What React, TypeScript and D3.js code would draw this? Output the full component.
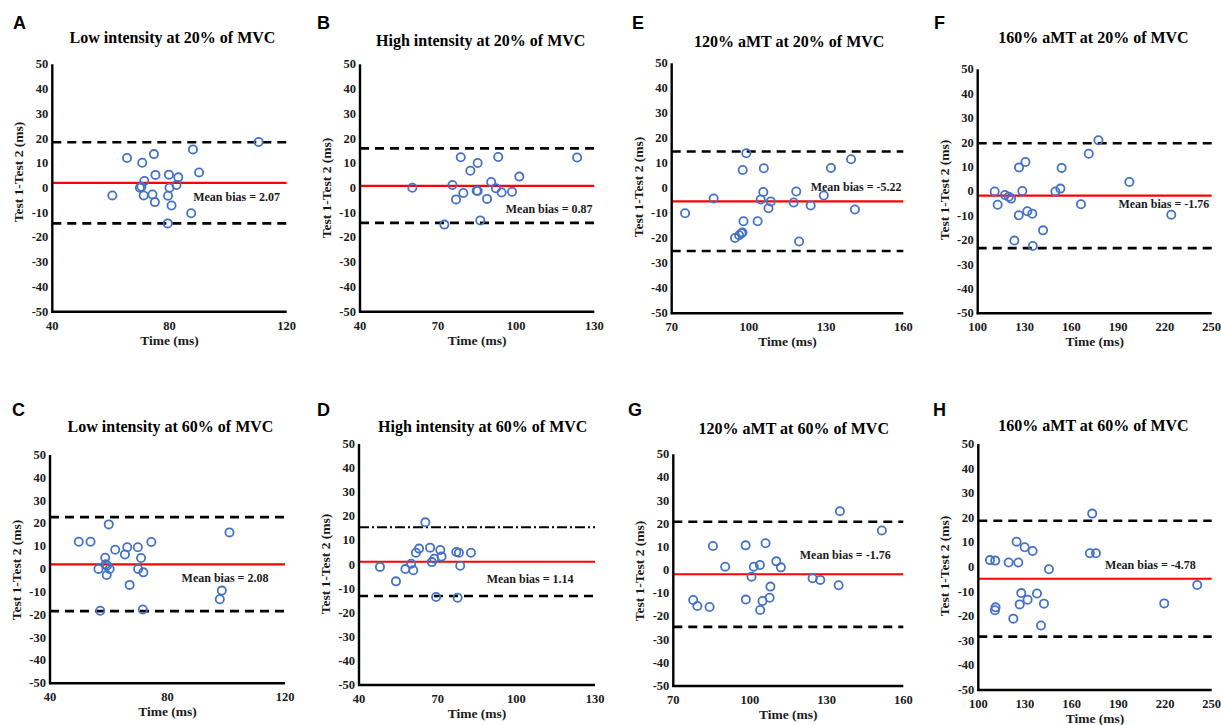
import React from 'react';
import * as d3 from 'd3';

// ---------- DATA ----------
const titles = [
  'Low intensity at 20% of MVC',
  'High intensity at 20% of MVC',
  '120% aMT at 20% of MVC',
  '160% aMT at 20% of MVC',
  'Low intensity at 60% of MVC',
  'High intensity at 60% of MVC',
  '120% aMT at 60% of MVC',
  '160% aMT at 60% of MVC',
];
const letters = ['A', 'B', 'E', 'F', 'C', 'D', 'G', 'H'];
const meanBias = [2.07, 0.87, -5.22, -1.76, 2.08, 1.14, -1.76, -4.78];
const upperLoA = [18.5, 16.0, 14.7, 19.7, 22.8, 15.5, 20.9, 18.8];
const lowerLoA = [-14.3, -14.1, -25.1, -23.3, -18.4, -13.1, -24.5, -28.3];
const xDomains: [number, number][] = [
  [40, 120], [40, 130], [70, 160], [100, 250],
  [40, 120], [40, 130], [70, 160], [100, 250],
];
const xTickSteps = [40, 30, 30, 30, 40, 30, 30, 30];
const yTicks = [-50, -40, -30, -20, -10, 0, 10, 20, 30, 40, 50];

// Panel A
const aTime = [60.5, 65.5, 70.7, 74.7, 69.9, 70.4, 71.4, 71.2, 74.2, 75.2, 75.0, 79.8, 80.0, 79.5, 80.7, 82.4, 83.0, 79.4, 87.4, 88.0, 90.1, 110.4];
const aDiff = [-3.0, 12.1, 10.2, 13.7, 0.1, 0.5, 2.8, -3.0, -2.6, 5.3, -5.7, 5.4, 0.1, -3.1, -7.1, 1.2, 4.3, -14.3, -10.2, 15.6, 6.3, 18.6];
// Panel B
const bTime = [60.1, 75.5, 76.9, 78.7, 79.7, 82.4, 85.2, 84.8, 85.2, 86.2, 72.4, 88.8, 90.4, 92.2, 93.1, 94.4, 98.4, 101.2, 123.4];
const bDiff = [0.1, 1.2, -4.6, 12.4, -2.0, 7.0, 10.1, -1.1, -1.2, -13.1, -14.8, -4.4, 2.4, -0.1, 12.5, -1.8, -1.5, 4.6, 12.3];
// Panel E
const eTime = [75.2, 86.3, 94.6, 96.2, 97.1, 97.5, 97.9, 97.6, 99.0, 103.4, 104.6, 105.6, 105.8, 108.5, 107.6, 117.4, 118.4, 119.5, 124.0, 129.1, 131.9, 139.7, 141.2];
const eDiff = [-10.0, -4.1, -19.9, -18.8, -18.0, -17.7, -13.2, 7.3, 14.0, -13.2, -4.5, -1.5, 8.0, -5.3, -8.0, -5.7, -1.3, -21.3, -6.9, -2.9, 8.1, 11.6, -8.5];
// Panel F
const fTime = [110.9, 112.8, 117.5, 119.9, 121.4, 123.5, 126.5, 126.3, 128.6, 130.6, 131.8, 135.0, 135.3, 141.9, 149.8, 153.0, 153.8, 166.2, 171.2, 177.4, 197.2, 224.1];
const fDiff = [-0.1, -5.5, -1.5, -2.2, -3.0, -20.2, 9.8, -9.8, 0.1, 12.0, -8.2, -9.2, -22.4, -16.0, -0.1, 1.1, 9.6, -5.3, 15.4, 20.9, 3.8, -9.6];
// Panel C
const cTime = [49.8, 53.8, 56.5, 57.1, 58.8, 59.0, 59.4, 59.3, 60.3, 60.0, 62.2, 65.5, 66.3, 67.1, 69.9, 70.0, 71.0, 71.8, 71.6, 74.5, 98.5, 97.8, 101.1];
const cDiff = [12.0, 12.0, 0.1, -18.2, 5.0, 2.1, 1.5, -2.6, 0.1, 19.6, 8.5, 6.4, 9.6, -6.9, 9.6, 0.1, 4.9, -1.4, -17.7, 11.9, -9.4, -13.2, 16.1];
// Panel D
const dTime = [48.0, 54.1, 57.7, 59.9, 60.7, 61.7, 62.9, 65.3, 67.1, 67.8, 68.7, 69.4, 71.0, 71.5, 77.1, 78.1, 77.6, 78.6, 82.7];
const dDiff = [-1.0, -7.0, -1.9, 0.3, -2.4, 4.9, 6.6, 17.5, 7.0, 1.0, 2.4, -13.5, 6.0, 3.3, 5.2, 4.9, -13.8, -0.5, 4.9];
// Panel G
const gTime = [77.8, 79.4, 84.2, 85.5, 90.3, 98.3, 98.4, 100.6, 101.5, 103.9, 104.0, 104.9, 106.1, 107.7, 108.0, 110.3, 112.1, 124.5, 127.5, 134.7, 135.2, 151.6];
const gDiff = [-12.9, -15.5, -15.9, 10.4, 1.5, 10.7, -12.7, -2.8, 1.5, 2.2, -17.2, -13.3, 11.6, -11.9, -7.1, 3.8, 1.2, -3.5, -4.2, -6.5, 25.4, 17.1];
// Panel H
const hTime = [107.5, 110.9, 111.1, 110.7, 119.5, 122.5, 124.6, 125.7, 126.6, 127.6, 129.8, 131.7, 134.9, 137.7, 140.3, 142.2, 145.4, 171.7, 175.6, 173.2, 219.5, 240.7];
const hDiff = [2.8, 2.6, -16.4, -17.6, 1.8, -21.0, 10.3, 1.8, -15.2, -10.6, 8.0, -13.3, 6.5, -10.8, -23.8, -14.9, -0.9, 5.6, 5.6, 21.7, -14.8, -7.3];

const times = [aTime, bTime, eTime, fTime, cTime, dTime, gTime, hTime];
const diffs = [aDiff, bDiff, eDiff, fDiff, cDiff, dDiff, gDiff, hDiff];

// ---------- LAYOUT ----------
type Layout = {
  left: number; right: number; top: number; bottom: number;
  titleX: number; titleY: number; letterX: number; letterY: number;
  yLabelY: number; biasX: number; biasY: number; upperDashDot?: boolean;
};
const layouts: Layout[] = [
  { left: 52.3, right: 286.7, top: 64.3, bottom: 311.7, titleX: 172.5, titleY: 43, letterX: 13, letterY: 29, yLabelY: 172, biasX: 88.1, biasY: -5.1 },
  { left: 360, right: 594.3, top: 64.3, bottom: 311.7, titleX: 480.7, titleY: 46, letterX: 317, letterY: 29, yLabelY: 188, biasX: 96.0, biasY: -10.0 },
  { left: 671.7, right: 903.3, top: 63.3, bottom: 313.3, titleX: 789.2, titleY: 47, letterX: 632, letterY: 29, yLabelY: 187, biasX: 124.0, biasY: -0.9 },
  { left: 977.7, right: 1211.7, top: 69.3, bottom: 313.3, titleX: 1093.5, titleY: 43, letterX: 934, letterY: 29, yLabelY: 190, biasX: 190.2, biasY: -7.0 },
  { left: 50, right: 285, top: 455, bottom: 683.3, titleX: 170.5, titleY: 432, letterX: 12, letterY: 416, yLabelY: 570, biasX: 84.8, biasY: -5.5 },
  { left: 359, right: 595, top: 444, bottom: 685, titleX: 482.7, titleY: 432, letterX: 317, letterY: 416, yLabelY: 564, biasX: 88.7, biasY: -7.5, upperDashDot: true },
  { left: 673.3, right: 903.3, top: 454.3, bottom: 686, titleX: 793.8, titleY: 434, letterX: 628, letterY: 416, yLabelY: 571, biasX: 119.5, biasY: 4.7 },
  { left: 978.3, right: 1211.7, top: 444, bottom: 690, titleX: 1093.5, titleY: 431, letterX: 933, letterY: 416, yLabelY: 566, biasX: 181.4, biasY: -0.8 },
];

const SERIF = '"Liberation Serif","Times New Roman",Times,serif';
const SANS = '"Liberation Sans",Arial,Helvetica,sans-serif';
const BLUE = '#4472C4';
const INK = '#1a1a1a';

function Panel({ i }: { i: number }) {
  const L = layouts[i];
  const dom = xDomains[i];
  const x = d3.scaleLinear().domain(dom).range([L.left, L.right]);
  const y = d3.scaleLinear().domain([-50, 50]).range([L.bottom, L.top]);
  const xt = d3.range(dom[0], dom[1] + 0.001, xTickSteps[i]);
  const pts = times[i].map((t, k) => ({ t, d: diffs[i][k] }));
  return (
    <g>
      <text x={L.letterX} y={L.letterY} fontFamily={SANS} fontWeight="bold" fontSize={18} fill="#000">{letters[i]}</text>
      <text x={L.titleX} y={L.titleY} textAnchor="middle" fontFamily={SERIF} fontWeight="bold" fontSize={16} fill="#000">{titles[i]}</text>
      {/* limits of agreement */}
      <line x1={x(dom[0])} x2={x(dom[1])} y1={y(upperLoA[i])} y2={y(upperLoA[i])} stroke="#000"
        strokeWidth={L.upperDashDot ? 2 : 2.6} strokeDasharray={L.upperDashDot ? '10,3,2,3' : '9,6'} />
      <line x1={x(dom[0])} x2={x(dom[1])} y1={y(lowerLoA[i])} y2={y(lowerLoA[i])} stroke="#000" strokeWidth={2.6} strokeDasharray="9,6" />
      {/* mean bias */}
      <line x1={x(dom[0])} x2={x(dom[1])} y1={y(meanBias[i])} y2={y(meanBias[i])} stroke="#FF0000" strokeWidth={2.2} />
      {pts.map((p, k) => (
        <circle key={k} cx={x(p.t)} cy={y(p.d)} r={4.1} fill="none" stroke={BLUE} strokeWidth={1.8} />
      ))}
      <text x={x(L.biasX)} y={y(L.biasY)} fontFamily={SERIF} fontWeight="bold" fontSize={12} fill={INK}>
        {`Mean bias = ${meanBias[i].toFixed(2)}`}
      </text>
      {/* axes */}
      <line x1={L.left} x2={L.left} y1={L.top} y2={L.bottom + 1} stroke="#000" strokeWidth={2.4} />
      <line x1={L.left - 1} x2={L.right} y1={L.bottom} y2={L.bottom} stroke="#000" strokeWidth={2.4} />
      {yTicks.map((v) => (
        <text key={v} x={L.left - 4} y={y(v) + 4} textAnchor="end" fontFamily={SERIF} fontWeight="bold" fontSize={12.5} fill={INK}>{v}</text>
      ))}
      {xt.map((v) => (
        <text key={v} x={x(v)} y={L.bottom + 18} textAnchor="middle" fontFamily={SERIF} fontWeight="bold" fontSize={12.5} fill={INK}>{v}</text>
      ))}
      <text x={(L.left + L.right) / 2} y={L.bottom + 33} textAnchor="middle" fontFamily={SERIF} fontWeight="bold" fontSize={13.5} fill={INK}>Time (ms)</text>
      <text transform={`translate(${L.left - 29},${L.yLabelY}) rotate(-90)`} textAnchor="middle" fontFamily={SERIF} fontWeight="bold" fontSize={13.5} fill={INK}>Test 1-Test 2 (ms)</text>
    </g>
  );
}

export default function App() {
  return (
    <svg width={1221} height={725} style={{ position: 'absolute', left: 0, top: 0, background: '#fff' }}>
      <rect width={1221} height={725} fill="#fff" />
      {titles.map((_, i) => <Panel key={i} i={i} />)}
    </svg>
  );
}
